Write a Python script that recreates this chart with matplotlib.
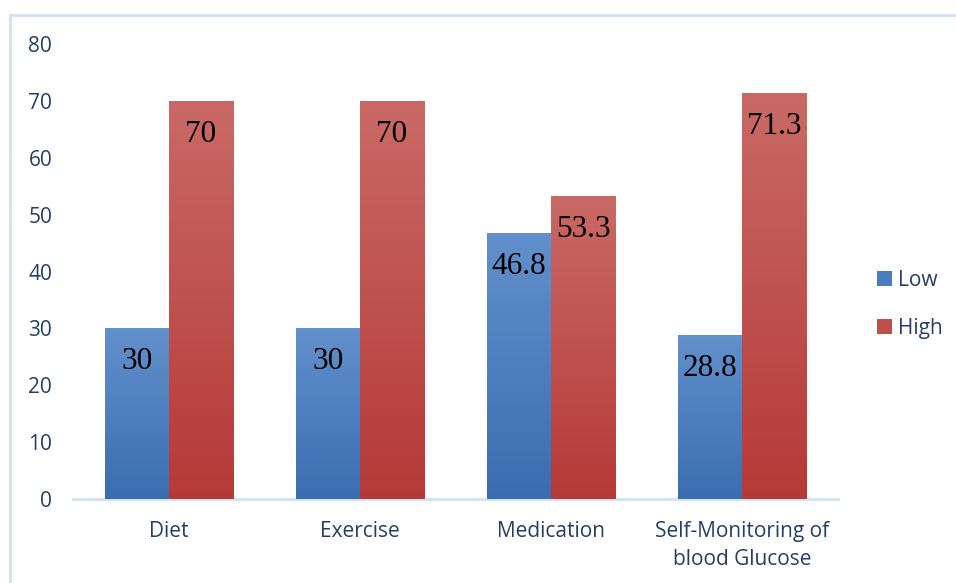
import numpy as np
import matplotlib
matplotlib.use("Agg")
import matplotlib.pyplot as plt
from matplotlib.patches import Patch
from matplotlib.lines import Line2D

categories = ["Diet", "Exercise", "Medication", "Self-Monitoring of\nblood Glucose"]
series_names = ["Low", "High"]
low_values = [30, 30, 46.8, 28.8]
high_values = [70, 70, 53.3, 71.3]
yticks = [0, 10, 20, 30, 40, 50, 60, 70, 80]

blue_top, blue_bot = "#6290CC", "#3A6DB0"
red_top, red_bot = "#C96A66", "#B53937"
text_col = "#243F66"
line_col = "#D3E1F1"

fig = plt.figure(figsize=(9.56, 5.83), dpi=100)
ax = fig.add_axes([0.0764, 0.1441, 0.8002, 0.7804])

x = np.arange(len(categories))
w = 0.335

def grad_bars(xpos, vals, ctop, cbot):
    bars = ax.bar(xpos, vals, width=w, color=cbot, linewidth=0, zorder=2)
    c1 = np.array(matplotlib.colors.to_rgb(ctop))
    c2 = np.array(matplotlib.colors.to_rgb(cbot))
    for b in bars:
        x0, y0 = b.get_x(), b.get_y()
        bw, bh = b.get_width(), b.get_height()
        t = np.linspace(0, 1, 256)[:, None]
        img = (c1[None, :] * (1 - t) + c2[None, :] * t)[:, None, :]
        im = ax.imshow(img, extent=[x0, x0 + bw, y0, y0 + bh], aspect="auto",
                       origin="upper", zorder=3, interpolation="bilinear")
        im.set_clip_path(b)
    return bars

bl = grad_bars(x - w / 2, low_values, blue_top, blue_bot)
bh = grad_bars(x + w / 2, high_values, red_top, red_bot)

for xs, vals in ((x - w / 2, low_values), (x + w / 2, high_values)):
    for xi, v in zip(xs, vals):
        ax.annotate(f"{v:g}", (xi, v), xytext=(0, -24), textcoords="offset points",
                    ha="center", va="center", fontsize=22.5,
                    family="Liberation Serif", color="black", zorder=5)

ax.set_xlim(-0.5, 3.5)
ax.set_ylim(0, 80)
ax.set_yticks(yticks)
ax.set_yticklabels([str(t) for t in yticks])
ax.set_xticks(x)
ax.set_xticklabels(categories)
for s in ["top", "right", "left"]:
    ax.spines[s].set_visible(False)
ax.spines["bottom"].set_color(line_col)
ax.spines["bottom"].set_linewidth(2)
ax.spines["bottom"].set_zorder(1)
ax.tick_params(axis="y", length=0, pad=15, labelsize=15, labelcolor=text_col)
ax.tick_params(axis="x", length=0, pad=16, labelsize=15, labelcolor=text_col)
for lab in ax.get_xticklabels() + ax.get_yticklabels():
    lab.set_family("Open Sans")
for lab in ax.get_xticklabels():
    lab.set_linespacing(1.45)

handles = [Patch(facecolor="#4A7DC0", edgecolor="none"),
           Patch(facecolor="#C04E4B", edgecolor="none")]
leg = fig.legend(handles, series_names, loc="center left", bbox_to_anchor=(0.898, 0.478),
                 frameon=False, handlelength=0.7, handleheight=0.7, handletextpad=0.3,
                 labelspacing=1.3, prop={"family": "Open Sans", "size": 15})
for t in leg.get_texts():
    t.set_color(text_col)

# chart area border
fig.add_artist(Line2D([10 / 956, 10 / 956], [0, 1 - 15 / 583], transform=fig.transFigure,
                      color=line_col, linewidth=2))
fig.add_artist(Line2D([10 / 956, 1], [1 - 15 / 583, 1 - 15 / 583], transform=fig.transFigure,
                      color=line_col, linewidth=2))

fig.savefig("out.png", dpi=100)
